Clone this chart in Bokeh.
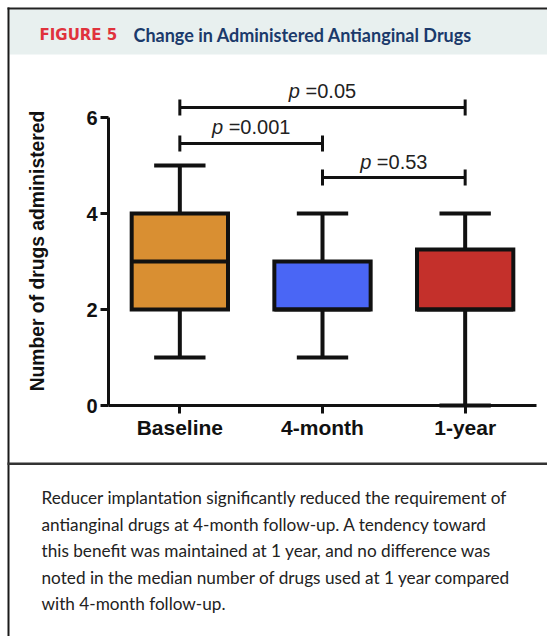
import math
from bokeh.plotting import figure
from bokeh.models import Range1d, FixedTicker, ColumnDataSource
from bokeh.core.properties import value
from bokeh.embed import file_html
from bokeh.resources import INLINE

# ---------------- data ----------------
categories = ["Baseline", "4-month", "1-year"]
cat_pos = [1, 2, 3]
mins = [1, 1, 0]
q1s = [2, 2, 2]
medians = [3, 2, 2]
q3s = [4, 3, 3.25]
maxs = [5, 4, 4]
colors = ["#D98F32", "#4A66F5", "#C4302B"]

y_ticks = [0, 2, 4, 6]
y_label = "Number of drugs administered"

cmp_from = [1, 1, 2]
cmp_to = [3, 2, 3]
cmp_level = [6.21, 5.46, 4.75]
cmp_p = ["0.05", "0.001", "0.53"]

title_tag = "FIGURE 5"
title_text = "Change in Administered Antianginal Drugs"
caption_lines = [
    "Reducer implantation significantly reduced the requirement of",
    "antianginal drugs at 4-month follow-up. A tendency toward",
    "this benefit was maintained at 1 year, and no difference was",
    "noted in the median number of drugs used at 1 year compared",
    "with 4-month follow-up.",
]

# ---------------- style / geometry ----------------
W, H = 547, 636
AX_X_PX, AX_Y_PX = 108, 405          # pixel position of the axes corner
PPX = (536 - AX_X_PX) / 3.0          # pixels per category unit
PPY = 48.0                           # pixels per drug
X_LO = 0.5

def dx(px):
    return X_LO + (px - AX_X_PX) / PPX

def dy(py):
    return (AX_Y_PX - py) / PPY

BOX_W = 0.675
CAP_W = 0.36
INK = "#111111"
BORDER = "#1a1a1a"
AX_FONT = "Liberation Sans"

ARIAL_W = {"p": 0.556, " ": 0.278, "=": 0.584, ".": 0.278}
def text_w(s, size):
    return sum(ARIAL_W.get(c, 0.556) for c in s) * size

p = figure(width=W, height=H, output_backend="svg", toolbar_location=None,
           x_range=Range1d(dx(0), dx(W)), y_range=Range1d(dy(H), dy(0)),
           min_border=0)
p.outline_line_color = None
p.xgrid.visible = False
p.ygrid.visible = False

# ---------------- panel decorations ----------------
def box(l, r, t, b, color):
    p.quad(left=[dx(l)], right=[dx(r)], top=[dy(t)], bottom=[dy(b)],
           fill_color=color, line_color=None)

box(9, W, 9, 54, "#E8F0EF")          # header band
box(7, W, 7, 9, "#222222")           # top border
box(7, 9, 7, H, BORDER)              # left border
box(7, W, 462, 464.5, "#333333")     # separator above caption

p.text(x=[dx(39)], y=[dy(34)], text=[title_tag], text_font=value("DejaVu Sans"),
       text_font_style="bold", text_font_size="15px", text_color="#E0323C",
       text_baseline="middle")
p.text(x=[dx(133)], y=[dy(34)], text=[title_text], text_font=value("Lato"),
       text_font_style="bold", text_font_size="18px", text_color="#1B3A6B",
       text_baseline="middle")

p.text(x=[dx(41)] * len(caption_lines),
       y=[dy(497 + i * 26.6) for i in range(len(caption_lines))],
       text=caption_lines, text_font=value("Lato"), text_font_size="17.2px",
       text_color="#222222", text_baseline="middle")

# ---------------- axes ----------------
yax = p.yaxis[0]
yax.fixed_location = X_LO
yax.ticker = FixedTicker(ticks=y_ticks)
yax.bounds = (0, 6)
xax = p.xaxis[0]
xax.fixed_location = 0
xax.ticker = FixedTicker(ticks=cat_pos)
xax.bounds = (X_LO, dx(536))
xax.major_label_overrides = {k: v for k, v in zip(cat_pos, categories)}
for ax, fs, so in ((yax, "20px", 3), (xax, "21px", 2)):
    ax.axis_line_width = 3
    ax.axis_line_color = INK
    ax.major_tick_line_width = 3
    ax.major_tick_line_color = INK
    ax.major_tick_out = 8
    ax.major_tick_in = 0
    ax.minor_tick_line_color = None
    ax.major_label_text_font = AX_FONT
    ax.major_label_text_font_style = "bold"
    ax.major_label_text_font_size = fs
    ax.major_label_text_color = INK
    ax.major_label_standoff = so

p.text(x=[dx(36.5)], y=[dy(250.5)], text=[y_label], angle=math.pi / 2,
       text_font=value(AX_FONT), text_font_style="bold", text_font_size="19.3px",
       text_color=INK, text_align="center", text_baseline="middle")

# ---------------- box plots ----------------
src = ColumnDataSource(dict(
    x=cat_pos, lo=q1s, hi=q3s, med=medians, mn=mins, mx=maxs, color=colors,
    bl=[x - BOX_W / 2 for x in cat_pos], br=[x + BOX_W / 2 for x in cat_pos],
    cl=[x - CAP_W / 2 for x in cat_pos], cr=[x + CAP_W / 2 for x in cat_pos],
))
LW = 4
p.segment(x0="x", y0="mn", x1="x", y1="mx", source=src, line_width=LW, line_color=INK)
p.segment(x0="cl", y0="mn", x1="cr", y1="mn", source=src, line_width=LW, line_color=INK)
p.segment(x0="cl", y0="mx", x1="cr", y1="mx", source=src, line_width=LW, line_color=INK)
p.quad(left="bl", right="br", bottom="lo", top="hi", source=src, fill_color="color",
       line_color=INK, line_width=LW, line_join="miter")
p.segment(x0="bl", y0="med", x1="br", y1="med", source=src, line_width=LW, line_color=INK)

# ---------------- comparison brackets ----------------
CAPH = 8 / PPY
TXT_UP = 16 / PPY
bsrc = ColumnDataSource(dict(
    x0=cmp_from, x1=cmp_to, y=cmp_level,
    ylo=[v - CAPH for v in cmp_level], yhi=[v + CAPH for v in cmp_level],
    yt=[v + TXT_UP for v in cmp_level],
    xm=[(a + b) / 2 for a, b in zip(cmp_from, cmp_to)],
    ptxt=["p"] * len(cmp_p), vtxt=["=" + s for s in cmp_p],
    poff=[-text_w("p =" + s, 20) / 2 for s in cmp_p],
    voff=[-text_w("p =" + s, 20) / 2 + text_w("p ", 20) for s in cmp_p],
))
p.segment(x0="x0", y0="y", x1="x1", y1="y", source=bsrc, line_width=3, line_color=INK)
p.segment(x0="x0", y0="ylo", x1="x0", y1="yhi", source=bsrc, line_width=3, line_color=INK)
p.segment(x0="x1", y0="ylo", x1="x1", y1="yhi", source=bsrc, line_width=3, line_color=INK)
p.text(x="xm", y="yt", text="ptxt", x_offset="poff", source=bsrc,
       text_font=value(AX_FONT), text_font_style="italic", text_font_size="20px",
       text_color="#222222", text_align="left", text_baseline="middle")
p.text(x="xm", y="yt", text="vtxt", x_offset="voff", source=bsrc,
       text_font=value(AX_FONT), text_font_size="20px",
       text_color="#222222", text_align="left", text_baseline="middle")

open("out.html", "w").write(file_html(p, INLINE))
